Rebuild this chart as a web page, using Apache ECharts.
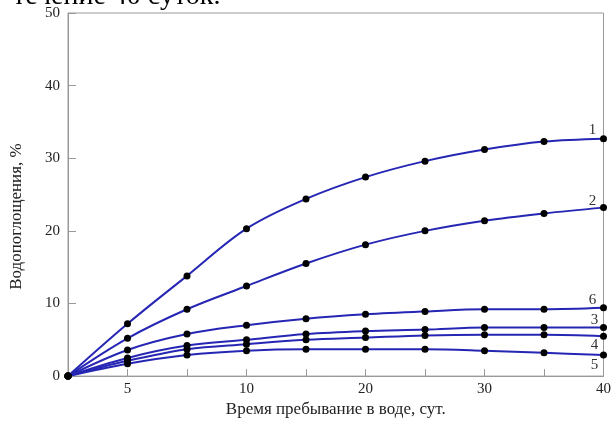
<!DOCTYPE html>
<html>
<head>
<meta charset="utf-8">
<script src="https://cdn.jsdelivr.net/npm/echarts@6/dist/echarts.min.js"></script>
<style>
    html, body { margin: 0; padding: 0; background: #fff; }
    #main { width: 614px; height: 423px; }
</style>
</head>
<body>
<div id="main"></div>
<script type="text/javascript">
    // дни (категории оси X) и подписи делений
    var days = ['0', '5', '7', '10', '15', '20', '25', '30', '35', '40'];
    var tickLabels = ['', '5', '', '10', '', '20', '', '30', '', '40'];

    // водопоглощение, % (кривые 1-6)
    var curve1 = [0, 7.2, 13.8, 20.3, 24.4, 27.4, 29.6, 31.2, 32.3, 32.7];
    var curve2 = [0, 5.2, 9.2, 12.4, 15.5, 18.1, 20.0, 21.4, 22.4, 23.2];
    var curve3 = [0, 2.5, 4.2, 5.0, 5.8, 6.2, 6.4, 6.7, 6.7, 6.7];
    var curve4 = [0, 2.1, 3.7, 4.4, 5.0, 5.3, 5.6, 5.7, 5.7, 5.5];
    var curve5 = [0, 1.7, 2.9, 3.5, 3.7, 3.7, 3.7, 3.5, 3.2, 2.9];
    var curve6 = [0, 3.6, 5.8, 7.0, 7.9, 8.5, 8.9, 9.2, 9.2, 9.4];

    var serif = 'Liberation Serif';
    var myChart = echarts.init(document.getElementById('main'));

    // номер кривой у последней точки
    function makeSeries(name, values, offset) {
        var last = values.length - 1;
        var data = values.map(function (v, i) {
            if (i !== last) return v;
            return {
                value: v,
                label: {
                    show: true,
                    position: 'inside',
                    formatter: name,
                    offset: offset,
                    color: '#333',
                    fontFamily: serif,
                    fontSize: 15
                }
            };
        });
        return {
            name: name,
            type: 'line',
            smooth: 0.35,
            symbol: 'circle',
            symbolSize: 7,
            showAllSymbol: true,
            lineStyle: { color: '#2626b4', width: 2 },
            itemStyle: { color: '#000' },
            data: data,
            z: 3
        };
    }

    var option = {
        animation: false,
        title: {
            text: 'течение 40 суток.',
            left: 8,
            top: -22,
            textStyle: { fontFamily: serif, fontSize: 28, fontWeight: 'normal', color: '#000' }
        },
        grid: {
            left: 68, right: 10, top: 13, bottom: 39,
            show: true,
            borderColor: '#999',
            borderWidth: 1
        },
        xAxis: {
            type: 'category',
            data: days,
            boundaryGap: false,
            name: 'Время пребывание в воде, сут.',
            nameLocation: 'middle',
            nameGap: 20,
            nameTextStyle: { fontFamily: serif, fontSize: 17, color: '#222' },
            axisLine: { lineStyle: { color: '#999', width: 1 } },
            axisTick: { inside: true, length: 7, interval: 0, lineStyle: { color: '#999' } },
            axisLabel: {
                interval: 0,
                margin: 5,
                formatter: function (v, i) { return tickLabels[i]; },
                fontFamily: serif, fontSize: 15, color: '#222'
            },
            splitLine: { show: false }
        },
        yAxis: {
            type: 'value',
            min: 0,
            max: 50,
            interval: 10,
            name: 'Водопоглощения, %',
            nameLocation: 'middle',
            nameGap: 43,
            nameTextStyle: { fontFamily: serif, fontSize: 17, color: '#222', padding: [0, 44, 0, 0] },
            axisLine: { show: true, lineStyle: { color: '#999', width: 1 } },
            axisTick: { show: true, inside: true, length: 8, lineStyle: { color: '#999' } },
            axisLabel: { margin: 8, fontFamily: serif, fontSize: 15, color: '#222' },
            splitLine: { show: false }
        },
        series: [
            makeSeries('1', curve1, [-11, -9]),
            makeSeries('2', curve2, [-11, -7]),
            makeSeries('3', curve3, [-9, -7]),
            makeSeries('4', curve4, [-9, 9]),
            makeSeries('5', curve5, [-9, 10]),
            makeSeries('6', curve6, [-11, -8])
        ]
    };

    myChart.setOption(option);
</script>
</body>
</html>
